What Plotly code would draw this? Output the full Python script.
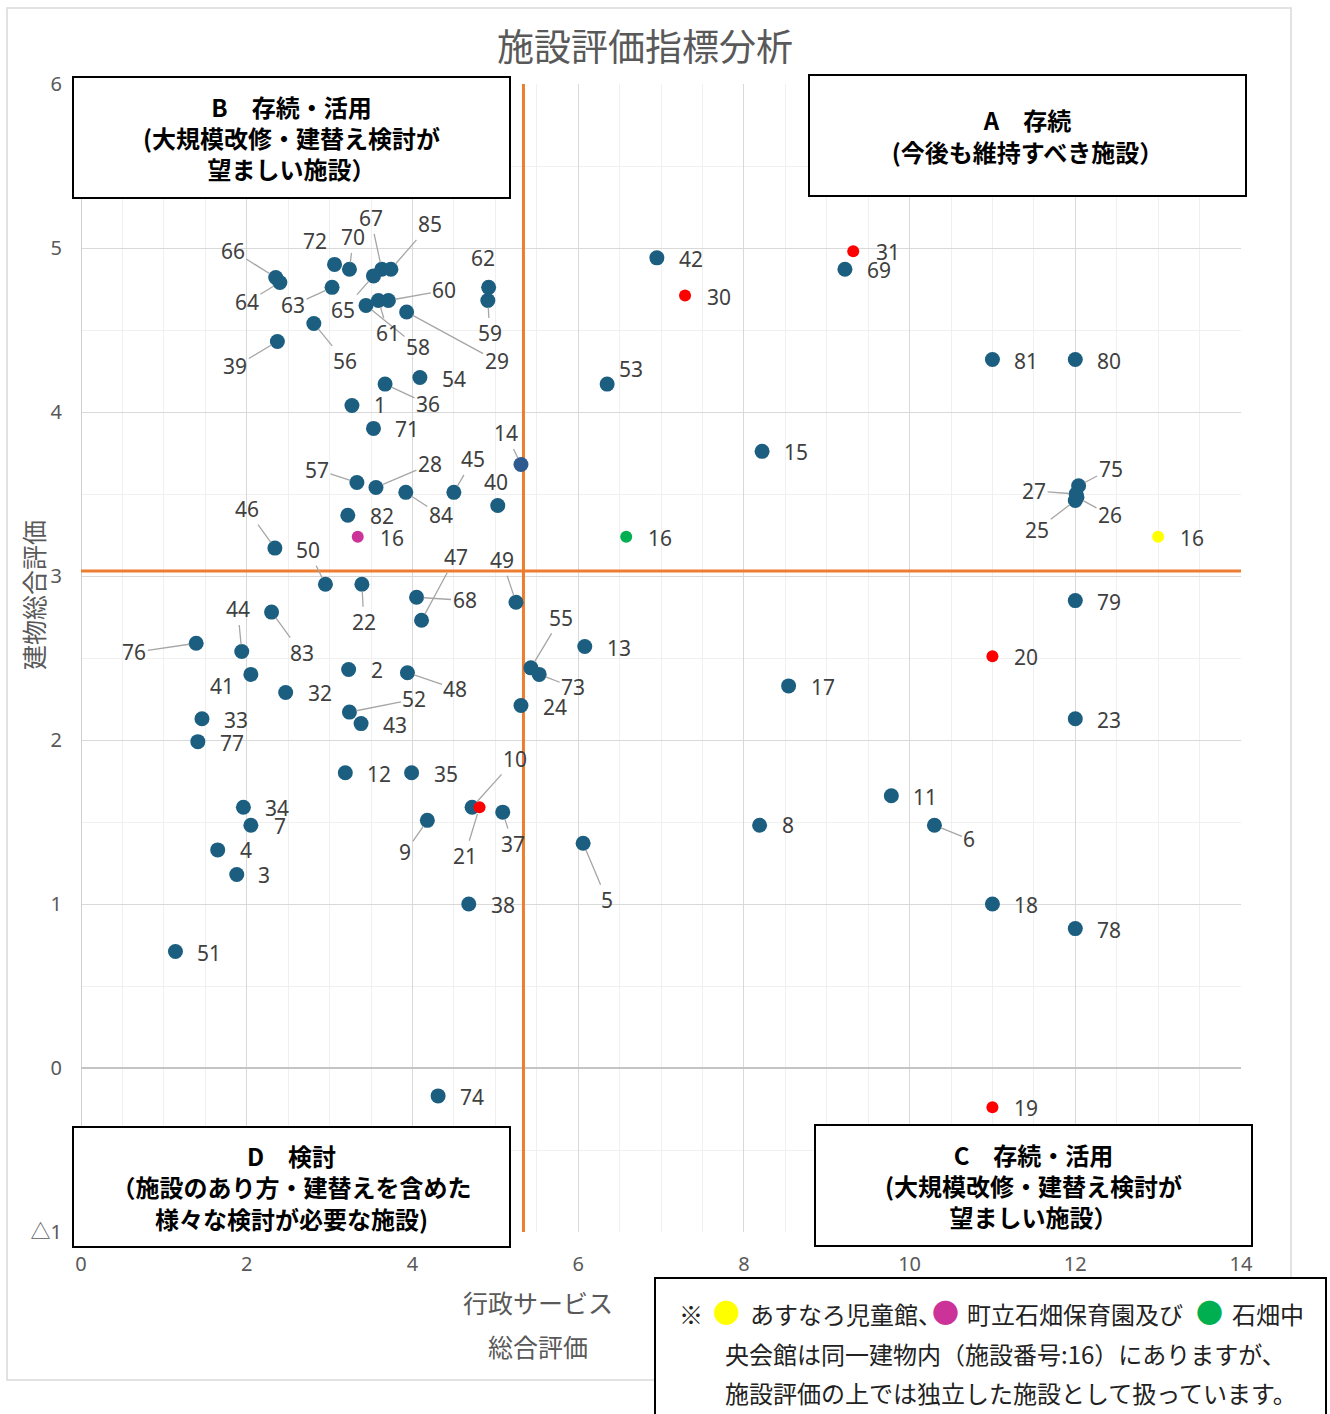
import plotly.graph_objects as go

# ---------------- data ----------------
title_text = "施設評価指標分析"
x_title_lines = ["行政サービス", "総合評価"]
y_title_text = "建物総合評価"
x_tick_vals = [0, 2, 4, 6, 8, 10, 12, 14]
y_tick_vals = [-1, 0, 1, 2, 3, 4, 5, 6]
y_tick_text = ["△1", "0", "1", "2", "3", "4", "5", "6"]

threshold_x = 5.34   # 行政サービス総合評価 の区分線
threshold_y = 3.03   # 建物総合評価 の区分線

blue_ids = [1, 2, 3, 4, 5, 6, 7, 8, 9, 10, 11, 12, 13, 14, 15, 17, 18, 22, 23, 24,
            25, 26, 27, 28, 29, 32, 33, 34, 35, 36, 37, 38, 39, 40, 41, 42, 43, 44, 45, 46,
            47, 48, 49, 50, 51, 52, 53, 54, 55, 56, 57, 58, 59, 60, 61, 62, 63, 64, 65, 66,
            67, 68, 69, 70, 71, 72, 73, 74, 75, 76, 77, 78, 79, 80, 81, 82, 83, 84, 85]
blue_x = [3.27, 3.23, 1.88, 1.65, 6.06, 10.30, 2.05, 8.19, 4.18, 4.72, 9.78, 3.19, 6.08, 5.31, 8.22, 8.54, 11.00, 3.39, 12.00, 5.31,
          12.00, 12.02, 12.01, 3.56, 3.93, 2.47, 1.46, 1.96, 3.99, 3.67, 5.09, 4.68, 2.37, 5.03, 2.05, 6.95, 3.38, 1.94, 4.50, 2.34,
          4.11, 3.94, 5.25, 2.95, 1.14, 3.24, 6.35, 4.09, 5.43, 2.81, 3.33, 3.44, 4.91, 3.71, 3.59, 4.92, 3.03, 2.40, 3.53, 2.35,
          3.63, 4.05, 9.22, 3.24, 3.53, 3.06, 5.53, 4.31, 12.04, 1.39, 1.41, 12.00, 12.00, 12.00, 11.00, 3.22, 2.30, 3.92, 3.74]
blue_y = [4.04, 2.43, 1.18, 1.33, 1.37, 1.48, 1.48, 1.48, 1.51, 1.59, 1.66, 1.80, 2.57, 3.68, 3.76, 2.33, 1.00, 2.95, 2.13, 2.21,
          3.46, 3.48, 3.50, 3.54, 4.61, 2.29, 2.13, 1.59, 1.80, 4.17, 1.56, 1.00, 4.43, 3.43, 2.40, 4.94, 2.10, 2.54, 3.51, 3.17,
          2.73, 2.41, 2.84, 2.95, 0.71, 2.17, 4.17, 4.21, 2.44, 4.54, 3.57, 4.65, 4.68, 4.68, 4.68, 4.76, 4.76, 4.79, 4.83, 4.82,
          4.87, 2.87, 4.87, 4.87, 3.90, 4.90, 2.40, -0.17, 3.55, 2.59, 1.99, 0.85, 2.85, 4.32, 4.32, 3.37, 2.78, 3.51, 4.87]

red_ids = [19, 20, 21, 30, 31]
red_x = [11.00, 11.00, 4.81, 7.29, 9.32]
red_y = [-0.24, 2.51, 1.59, 4.71, 4.98]

shared_ids = [16, 16, 16]
shared_names = ["あすなろ児童館", "町立石畑保育園", "石畑中央会館"]
shared_x = [13.00, 3.34, 6.58]
shared_y = [3.24, 3.24, 3.24]

quadrant_texts = {
    "B": "<b>B　存続・活用<br>(大規模改修・建替え検討が<br>望ましい施設）</b>",
    "A": "<b>A　存続<br>(今後も維持すべき施設）</b>",
    "D": "<b>D　検討<br>（施設のあり方・建替えを含めた<br>様々な検討が必要な施設)</b>",
    "C": "<b>C　存続・活用<br>(大規模改修・建替え検討が<br>望ましい施設）</b>",
}
note_mark = "※"
note_segments = ["あすなろ児童館、", "町立石畑保育園及び", "石畑中"]
note_lines_rest = ["央会館は同一建物内（施設番号:16）にありますが、",
                   "施設評価の上では独立した施設として扱っています。"]

# ---------------- styles ----------------
BLUE = "#1B5E80"
BLUE14 = "#2F5A8F"
RED = "#FF0000"
shared_colors = ["#FFFF00", "#CC3399", "#00B050"]
ORANGE = "#ED7D31"
LABEL_COLOR = "#404040"
AXIS_TEXT = "#595959"
LATIN = "Noto Sans, Noto Sans CJK JP, sans-serif"
CJK = "Noto Sans CJK JP, Noto Sans, sans-serif"

W, H = 1330, 1414
L, R, T, B = 81, 1241, 84, 1232


def px(xp):
    return (xp - L) / (R - L)


def py(yp):
    return (B - yp) / (B - T)


# label offsets (pixels; dx to the right, dy downward)
leader = {66: (-43, -27), 64: (-33, 20), 70: (4, -32), 67: (-11, -51), 85: (39, -45),
          63: (-39, 18), 65: (-30, 34), 61: (10, 33), 58: (52, 42), 60: (56, -10),
          29: (90, 49), 59: (2, 33), 56: (31, 38), 39: (-42, 25), 36: (43, 20),
          14: (-15, -31), 57: (-40, -13), 28: (54, -23), 45: (19, -33), 84: (35, 23),
          46: (-28, -39), 50: (-17, -34), 22: (2, 38), 47: (34, -63), 68: (48, 3),
          49: (-14, -42), 44: (-4, -42), 83: (30, 41), 76: (-62, 9), 48: (48, 16),
          52: (65, -13), 55: (30, -50), 73: (34, 13), 10: (43, -48), 21: (-15, 49),
          37: (10, 32), 9: (-22, 32), 5: (24, 57), 75: (32, -17), 27: (-42, -3),
          26: (33, 18), 25: (-38, 29), 6: (35, 14)}
plain = {72: (-20, -23), 62: (-6, -29), 40: (-2, -23), 53: (24, -15), 41: (-29, 12),
         1: (28, 0), 2: (28, 1), 7: (29, 1), 4: (28, 0), 3: (27, 1), 8: (28, 0), 31: (35, 1)}
default_off = (34, 1)

fig = go.Figure()

fig.add_trace(go.Scatter(
    x=blue_x, y=blue_y, mode="markers", name="施設",
    marker=dict(size=15, color=[BLUE14 if i == 14 else BLUE for i in blue_ids], line=dict(width=0)),
    text=[str(i) for i in blue_ids], hoverinfo="text+x+y", showlegend=False))
fig.add_trace(go.Scatter(
    x=red_x, y=red_y, mode="markers", name="red",
    marker=dict(size=12, color=RED, line=dict(width=0)),
    text=[str(i) for i in red_ids], hoverinfo="text+x+y", showlegend=False))
fig.add_trace(go.Scatter(
    x=shared_x, y=shared_y, mode="markers", name="16",
    marker=dict(size=12, color=shared_colors, line=dict(width=0)),
    text=shared_names, hoverinfo="text+x+y", showlegend=False))

annotations = []
label_font = dict(family=LATIN, size=21, color=LABEL_COLOR)
all_pts = list(zip(blue_ids, blue_x, blue_y)) + list(zip(red_ids, red_x, red_y)) + \
    list(zip(shared_ids, shared_x, shared_y))
for pid, xv, yv in all_pts:
    if pid in leader:
        dx, dy = leader[pid]
        annotations.append(dict(x=xv, y=yv, xref="x", yref="y", text=str(pid),
                                showarrow=True, arrowhead=0, arrowwidth=1.3,
                                arrowcolor="#A6A6A6", ax=dx, ay=dy, standoff=7,
                                font=label_font))
    else:
        dx, dy = plain.get(pid, default_off)
        annotations.append(dict(x=xv, y=yv, xref="x", yref="y", text=str(pid),
                                showarrow=False, xshift=dx, yshift=-dy,
                                xanchor="center", yanchor="middle", font=label_font))

# quadrant boxes
boxes = {"B": (72, 76, 511, 199), "A": (808, 74, 1247, 197),
         "D": (72, 1126, 511, 1248), "C": (814, 1124, 1253, 1247)}
for k, (x0, y0, x1, y1) in boxes.items():
    annotations.append(dict(x=px((x0 + x1) / 2), y=py((y0 + y1) / 2), xref="paper", yref="paper",
                            xanchor="center", yanchor="middle", text=quadrant_texts[k],
                            showarrow=False, width=x1 - x0 - 4, height=y1 - y0 - 4,
                            borderwidth=2, bordercolor="#000000", bgcolor="#FFFFFF",
                            borderpad=0, align="center",
                            font=dict(family=CJK, size=24, color="#000000")))

# title and axis titles
annotations.append(dict(x=px(645), y=py(45), xref="paper", yref="paper", text=title_text,
                        showarrow=False, xanchor="center", yanchor="middle",
                        font=dict(family=CJK, size=37, color=AXIS_TEXT)))
annotations.append(dict(x=px(33), y=py(595), xref="paper", yref="paper", text=y_title_text,
                        showarrow=False, xanchor="center", yanchor="middle", textangle=-90,
                        font=dict(family=CJK, size=25, color=AXIS_TEXT)))
for line, ypx in zip(x_title_lines, [1302, 1346]):
    annotations.append(dict(x=px(538), y=py(ypx), xref="paper", yref="paper", text=line,
                            showarrow=False, xanchor="center", yanchor="middle",
                            font=dict(family=CJK, size=25, color=AXIS_TEXT)))

# note box text (first line laid out piece by piece)
note_font = dict(family=CJK, size=24, color="#222222")
dot_font_size = 27
annotations.append(dict(x=px(677), y=py(1313), xref="paper", yref="paper", text=note_mark,
                        showarrow=False, xanchor="left", yanchor="middle", font=note_font))
for seg, xl in zip(note_segments, [748, 965, 1230]):
    annotations.append(dict(x=px(xl), y=py(1313), xref="paper", yref="paper", text=seg,
                            showarrow=False, xanchor="left", yanchor="middle", font=note_font))
for col, xc in zip(shared_colors, [727, 945, 1209]):
    annotations.append(dict(x=px(xc), y=py(1311), xref="paper", yref="paper", text="●",
                            showarrow=False, xanchor="center", yanchor="middle",
                            font=dict(family=CJK, size=dot_font_size, color=col)))
for line, ypx in zip(note_lines_rest, [1353, 1392]):
    annotations.append(dict(x=px(723), y=py(ypx), xref="paper", yref="paper", text=line,
                            showarrow=False, xanchor="left", yanchor="middle", font=note_font))

shapes = [
    # outer chart border
    dict(type="rect", xref="paper", yref="paper", x0=px(7), x1=px(1291), y0=py(1380), y1=py(8),
         line=dict(color="#D9D9D9", width=1.5), fillcolor="rgba(0,0,0,0)", layer="above"),
    # threshold lines
    dict(type="line", xref="x", yref="y", x0=threshold_x, x1=threshold_x, y0=-1, y1=6,
         line=dict(color=ORANGE, width=3), layer="between"),
    dict(type="line", xref="x", yref="y", x0=0, x1=14.03, y0=threshold_y, y1=threshold_y,
         line=dict(color=ORANGE, width=3), layer="between"),
    # note box
    dict(type="rect", xref="paper", yref="paper", x0=px(655), x1=px(1326), y0=py(1430), y1=py(1278),
         line=dict(color="#000000", width=2), fillcolor="#FFFFFF", layer="above"),
]

fig.update_layout(
    width=W, height=H,
    margin=dict(l=L, r=W - R, t=T, b=H - B),
    paper_bgcolor="#FFFFFF", plot_bgcolor="#FFFFFF",
    font=dict(family=LATIN, color=AXIS_TEXT),
    annotations=annotations, shapes=shapes, showlegend=False,
    xaxis=dict(range=[0, 14], tickvals=x_tick_vals, showgrid=True, gridcolor="#D9D9D9", gridwidth=1.3,
               minor=dict(dtick=0.5, tick0=0, showgrid=True, gridcolor="#F0F0F0", gridwidth=1),
               zeroline=True, zerolinecolor="#D0D0D0", zerolinewidth=1.3, showline=False,
               ticks="", ticklabelstandoff=18,
               tickfont=dict(family=LATIN, size=20, color=AXIS_TEXT), fixedrange=True),
    yaxis=dict(range=[-1, 6], tickvals=y_tick_vals, ticktext=y_tick_text, showgrid=True,
               gridcolor="#D9D9D9", gridwidth=1.3,
               minor=dict(dtick=0.5, tick0=0, showgrid=True, gridcolor="#F0F0F0", gridwidth=1),
               zeroline=True, zerolinecolor="#C4C4C4", zerolinewidth=1.5, showline=False,
               ticks="", ticklabelstandoff=18,
               tickfont=dict(family=LATIN, size=20, color=AXIS_TEXT), fixedrange=True),
)

fig.write_html("out.html", config={"displayModeBar": False},
               post_script="document.body.style.margin='0';")
